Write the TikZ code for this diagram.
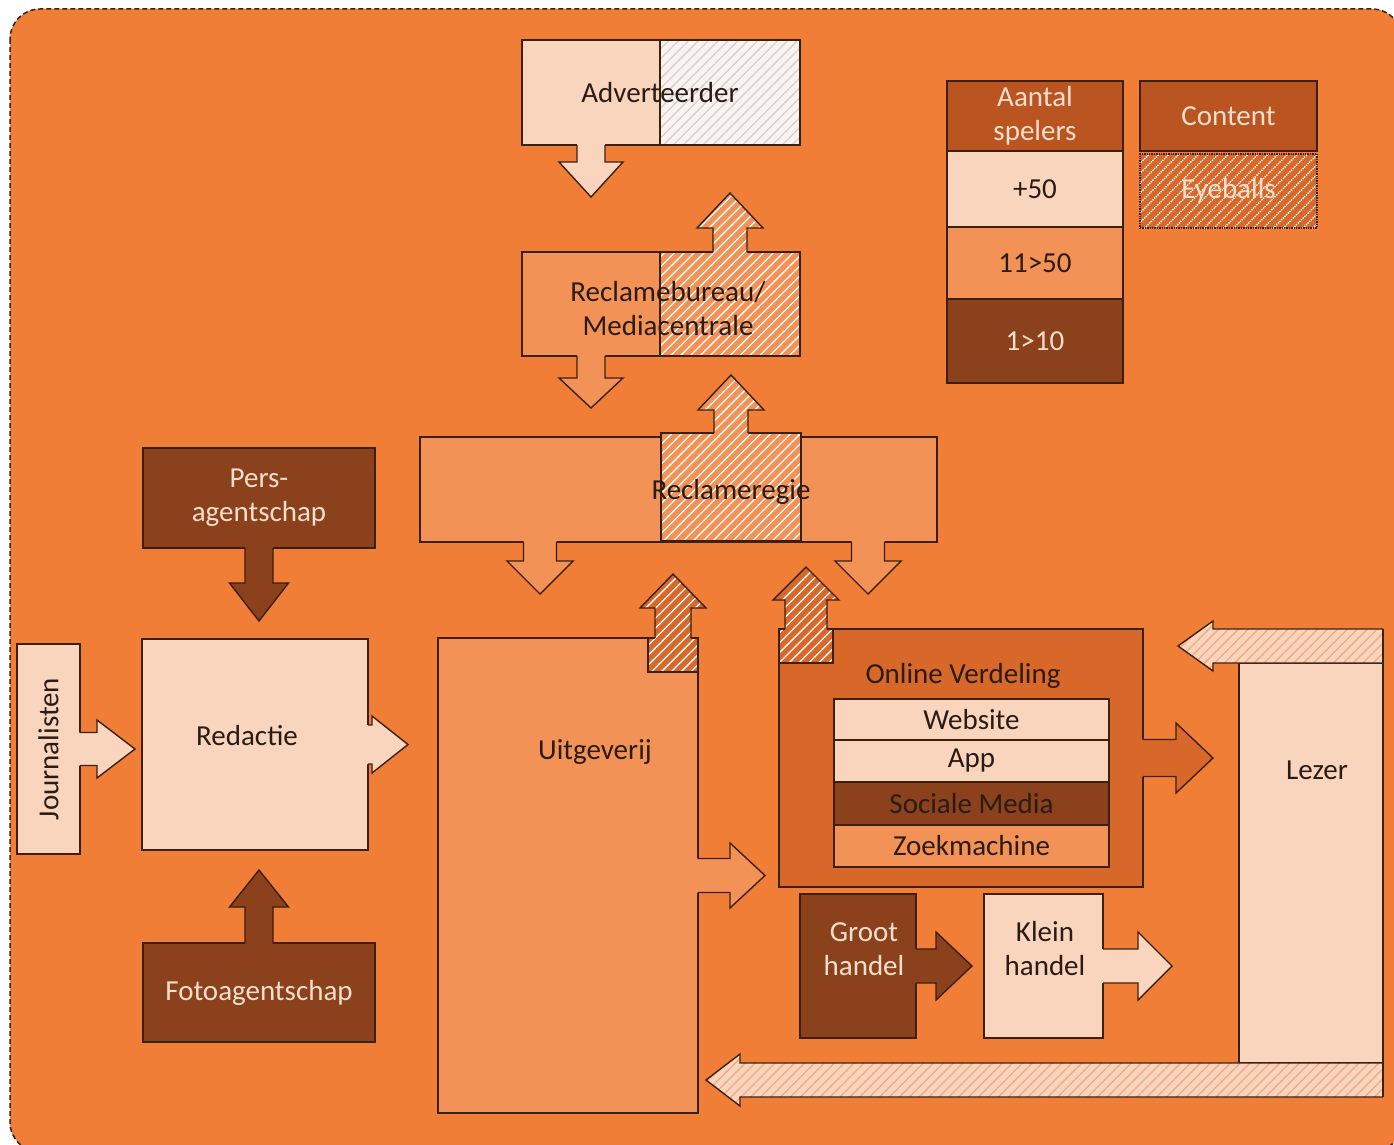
\documentclass[tikz,border=0pt]{standalone}
\usepackage{fontspec}
\setmainfont{Carlito}
\usetikzlibrary{positioning,calc,patterns.meta}

\definecolor{bgorange}{HTML}{F07E36}
\definecolor{peach}{HTML}{F9D5BE}
\definecolor{paper}{HTML}{FBF3EF}
\definecolor{mid}{HTML}{F39256}
\definecolor{dark}{HTML}{8B411C}
\definecolor{head}{HTML}{BA5421}
\definecolor{ovc}{HTML}{D8672A}
\definecolor{edge}{HTML}{3B2012}
\definecolor{darktext}{HTML}{2A1C14}
\definecolor{lighttext}{HTML}{F7DFCC}
\definecolor{stripe}{HTML}{EFAA82}

% block arrow: [base offset] look, base, direction, length, shaft half, head half, head length
\newcommand{\blockarrow}[8][-3]{%
    \fill[shift={#3}, #4, #2] (#1,-#6) -- ({#5-#8},-#6) -- ({#5-#8},-#7) -- (#5,0)
        -- ({#5-#8},#7) -- ({#5-#8},#6) -- (#1,#6) -- cycle;
    \draw[shift={#3}, #4, outline] (0,-#6) -- ({#5-#8},-#6) -- ({#5-#8},-#7) -- (#5,0)
        -- ({#5-#8},#7) -- ({#5-#8},#6) -- (0,#6);
}

\begin{document}
\begin{tikzpicture}[%
        x = 1pt, y = -1pt,
        every node/.style = {font = \fontsize{29}{34}\selectfont, align = center, text = darktext},
        box/.style = {draw = edge, line width = 1.4pt, inner sep = 0pt, outer sep = 0pt},
        outline/.style = {draw = edge, line width = 1.4pt},
        hatch/.style = {postaction = {pattern = {Lines[angle = 45, distance = 7pt, line width = 1.3pt]},
                        pattern color = #1}},
        hatchbox/.style = {hatch = #1, postaction = {draw = edge, line width = 1.4pt}},
        dirR/.style = {x = {(1pt,0pt)}, y = {(0pt,1pt)}},
        dirL/.style = {x = {(-1pt,0pt)}, y = {(0pt,1pt)}},
        dirU/.style = {x = {(0pt,1pt)}, y = {(1pt,0pt)}},
        dirD/.style = {x = {(0pt,-1pt)}, y = {(1pt,0pt)}}
    ]

        \useasboundingbox (0,0) rectangle (1394,1145);
        \fill[white] (0,0) rectangle (1394,1145);

        % Background panel.
        \draw[edge, line width = 1.5pt, dash pattern = on 5pt off 3pt, fill = bgorange,
              rounded corners = 30pt] (10,9) rectangle (1402,1152);

        % Advertising chain.
        \node[box, fill = peach, minimum width = 138pt, minimum height = 105pt] (advL) at (591,92.5) {};
        \node[box, fill = paper, hatchbox = black!18, minimum width = 140pt, minimum height = 105pt,
              right = 0pt of advL] (advR) {};
        \node (adv) at (advL.east) {Adverteerder};

        \node[box, fill = mid, minimum width = 138pt, minimum height = 104pt] (rbL) at (591,304) {};
        \node[box, fill = mid, hatchbox = white, minimum width = 140pt, minimum height = 104pt,
              right = 0pt of rbL] (rbR) {};
        \node (rb) at ($(rbL.east)+(8,5)$) {Reclamebureau/\\Mediacentrale};

        \node[box, fill = mid, minimum width = 517pt, minimum height = 105pt] (rgw) at (678.5,489.5) {};
        \node[box, fill = mid, hatchbox = white, minimum width = 140pt, minimum height = 108pt]
            (rg) at (731,487) {};
        \node (rglbl) at (731,492) {Reclameregie};

        % Legend.
        \node[box, fill = head, text = lighttext, minimum width = 176pt, minimum height = 70pt]
            (spel) at (1035,116) {Aantal\\spelers};
        \node[box, fill = peach, minimum width = 176pt, minimum height = 76pt, below = 0pt of spel] (p50) {+50};
        \node[box, fill = mid, minimum width = 176pt, minimum height = 72pt, below = 0pt of p50] (p11) {11>50};
        \node[box, fill = dark, text = lighttext, minimum width = 176pt, minimum height = 84pt,
              below = 0pt of p11] (p1) {1>10};
        \node[box, fill = head, text = lighttext, minimum width = 177pt, minimum height = 70pt]
            (cont) at (1228.5,116) {Content};
        \node[box, fill = ovc, hatchbox = white, densely dotted, text = lighttext, minimum width = 177pt,
              minimum height = 74pt, below = 3pt of cont] (eye) {Eyeballs};

        % Sources and newsroom.
        \node[box, fill = dark, text = lighttext, minimum width = 232pt, minimum height = 100pt]
            (pers) at (259,498) {Pers-\\agentschap};
        \node[box, fill = peach, minimum width = 226pt, minimum height = 211pt] (red) at (255,744.5) {};
        \node (redlbl) at (247,736) {Redactie};
        \node[box, fill = peach, minimum width = 63pt, minimum height = 210pt]
            (jour) at (48.5,749) {\rotatebox{90}{Journalisten}};
        \node[box, fill = dark, text = lighttext, minimum width = 232pt, minimum height = 99pt]
            (foto) at (259,992.5) {Fotoagentschap};

        % Publisher.
        \node[box, fill = mid, minimum width = 260pt, minimum height = 475pt] (uit) at (568,875.5) {};
        \node[box, fill = ovc, hatchbox = white, minimum width = 50pt, minimum height = 34pt,
              anchor = north east] (uittab) at (uit.north east) {};
        \node (uitlbl) at (595,752) {Uitgeverij};

        % Online distribution.
        \node[box, fill = ovc, minimum width = 364pt, minimum height = 258pt] (ov) at (961,758) {};
        \node[box, fill = ovc, hatchbox = white, minimum width = 54pt, minimum height = 34pt,
              anchor = north west] (ovtab) at (ov.north west) {};
        \node (ovlbl) at (963,676) {Online Verdeling};
        \node[box, fill = peach, minimum width = 275pt, minimum height = 41pt] (web) at (971.5,719.5) {Website};
        \node[box, fill = peach, minimum width = 275pt, minimum height = 42pt, below = 0pt of web] (app) {App};
        \node[box, fill = dark, minimum width = 275pt, minimum height = 43pt, below = 0pt of app] (soc) {Sociale Media};
        \node[box, fill = mid, minimum width = 275pt, minimum height = 42pt, below = 0pt of soc] (zoek) {Zoekmachine};

        % Print distribution and reader.
        \node[box, fill = dark, minimum width = 116pt, minimum height = 144pt] (groot) at (858,966) {};
        \node[text = lighttext] (grootlbl) at (864,949) {Groot\\handel};
        \node[box, fill = peach, minimum width = 119pt, minimum height = 144pt] (klein) at (1043.5,966) {};
        \node (kleinlbl) at (1045,949) {Klein\\handel};
        \node[box, fill = peach, minimum width = 144pt, minimum height = 400pt] (lz) at (1311,863) {};
        \node (lzlbl) at (1317,770) {Lezer};

        % Block arrows.
        \blockarrow{fill = peach}{(advL.south)}{dirD}{52}{14}{32}{35}
        \blockarrow{fill = mid, hatch = white}{(rbR.north)}{dirU}{59}{17}{33}{35}
        \blockarrow{fill = mid}{(rbL.south)}{dirD}{52}{14}{32}{30}
        \blockarrow{fill = mid, hatch = white}{(rg.north)}{dirU}{58}{17}{33}{35}
        \blockarrow{fill = mid}{($(rgw.south west)+(120,0)$)}{dirD}{52}{16.5}{33}{33}
        \blockarrow{fill = mid}{($(rgw.south east)+(-69,0)$)}{dirD}{52}{16.5}{33}{33}
        \blockarrow{fill = ovc, hatch = white}{(uittab.north)}{dirU}{64}{18}{33}{34}
        \blockarrow{fill = ovc, hatch = white}{(ovtab.north)}{dirU}{62}{21}{33}{33}
        \blockarrow{fill = mid}{(uit.east)}{dirR}{67}{17}{32.5}{35}
        \blockarrow{fill = ovc}{(ov.east)}{dirR}{70}{18.5}{35}{37}
        \blockarrow{fill = dark}{(groot.east)}{dirR}{56}{17}{34}{36}
        \blockarrow{fill = peach}{(klein.east)}{dirR}{69}{17}{34}{34}
        \blockarrow{fill = dark}{(pers.south)}{dirD}{73}{14}{29.5}{38}
        \blockarrow{fill = dark}{(foto.north)}{dirU}{73}{14}{29.5}{37}
        \blockarrow{fill = peach}{(jour.east)}{dirR}{55}{16.5}{29}{38}
        \blockarrow{fill = peach}{(red.east)}{dirR}{40}{19.5}{28.5}{36}

        % Reader feedback bars.
        \blockarrow[0]{fill = peach, hatch = stripe}{($(lz.north east)+(0,-17)$)}{dirL}{205}{17}{25}{35}
        \draw[outline] (lz.north east) -- ++(0,-34);
        \blockarrow[0]{fill = peach, hatch = stripe}{($(lz.south east)+(0,17)$)}{dirL}{677}{17}{26}{34}
        \draw[outline] (lz.south east) -- ++(0,34);
    \end{tikzpicture}
\end{document}
